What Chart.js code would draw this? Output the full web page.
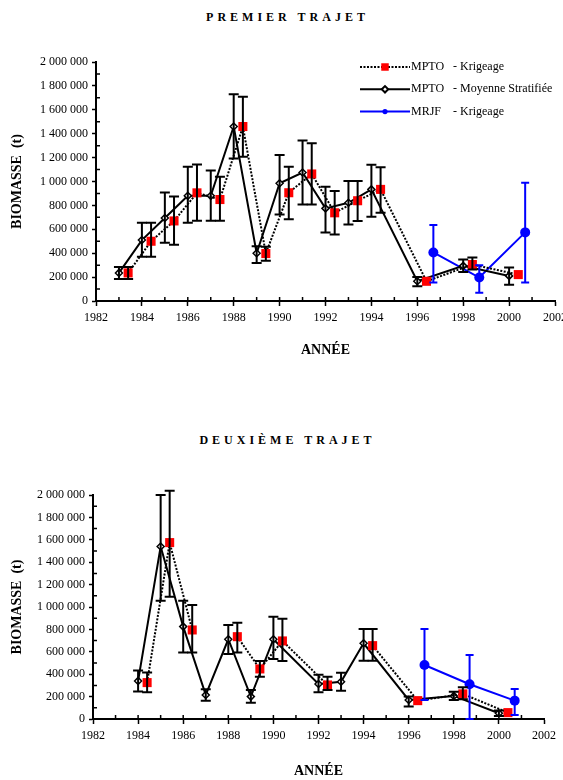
<!DOCTYPE html>
<html>
<head>
<meta charset="utf-8">
<script src="https://cdn.jsdelivr.net/npm/chart.js@4.4.1/dist/chart.umd.min.js"></script>
<style>
    body { margin: 0; background: #fff; }
    #page { position: relative; width: 563px; height: 780px; overflow: hidden; }
    canvas { position: absolute; left: 0; }
    .titre { position: absolute; left: 6px; width: 563px; text-align: center; font: bold 12px "Liberation Serif", serif; letter-spacing: 4px; color: #000; }
</style>
</head>
<body>
<div id="page">
    <div class="titre" style="top:10px">PREMIER TRAJET</div>
    <canvas id="chartPremier" width="563" height="362" style="top:0"></canvas>
    <div class="titre" style="top:433px">DEUXIÈME TRAJET</div>
    <canvas id="chartDeuxieme" width="563" height="360" style="top:420px"></canvas>
</div>
<script>
// Legende (commune aux deux graphiques)
const sources = ['MPTO', 'MPTO', 'MRJF']
const methodes = ['- Krigeage', '- Moyenne Stratifiée', '- Krigeage']

// Premier trajet : MPTO krigeage
const krigAnnees1 = [1983.4, 1984.4, 1985.4, 1986.4, 1987.4, 1988.4, 1989.4, 1990.4, 1991.4, 1992.4, 1993.4, 1994.4, 1996.4, 1998.4, 2000.4]
const krigBiomasse1 = [235000, 500000, 670000, 905000, 849000, 1460000, 397000, 906000, 1063000, 738000, 839000, 934000, 165000, 305000, 221000]
const krigMin1 = [185000, 370000, 471000, 672000, 672000, 1208000, 336000, 685000, 808000, 557000, 669000, 738000, null, 263000, null]
const krigMax1 = [285000, 655000, 874000, 1143000, 1039000, 1709000, 453000, 1124000, 1320000, 920000, 1004000, 1119000, null, 364000, null]

// Premier trajet : MPTO moyenne stratifiée
const moyAnnees1 = [1983, 1984, 1985, 1986, 1987, 1988, 1989, 1990, 1991, 1992, 1993, 1994, 1996, 1998, 2000]
const moyBiomasse1 = [235000, 510000, 695000, 880000, 880000, 1460000, 400000, 985000, 1075000, 775000, 822000, 934000, 165000, 294000, 210000]
const moyMin1 = [185000, 370000, 487000, 655000, 672000, 1192000, 319000, 724000, 808000, 573000, 641000, 705000, 123000, 243000, 137000]
const moyMax1 = [285000, 655000, 908000, 1123000, 1092000, 1731000, 459000, 1222000, 1343000, 957000, 1004000, 1141000, 200000, 347000, 280000]

// Premier trajet : MRJF krigeage
const mrjfAnnees1 = [1996.7, 1998.7, 2000.7]
const mrjfBiomasse1 = [406000, 196000, 574000]
const mrjfMin1 = [154000, 70000, 154000]
const mrjfMax1 = [635000, 299000, 990000]

// Deuxième trajet : MPTO krigeage (null = pas de valeur, la ligne s'interrompt)
const krigAnnees2 = [1984.4, 1985.4, 1986.4, 1987.4, 1988.4, 1989.4, 1990.4, 1992.4, 1993.4, 1994.4, 1996.4, 1998.4, 2000.4]
const krigBiomasse2 = [325000, 1575000, 795000, null, 735000, 447000, 697000, 304000, null, 655000, 164000, 224000, 57000]
const krigMin2 = [239000, 1092000, 593000, null, 593000, 378000, 518000, 259000, null, 521000, null, 176000, null]
const krigMax2 = [415000, 2039000, 1018000, null, 860000, 518000, 896000, 378000, null, 804000, null, 283000, null]

// Deuxième trajet : MPTO moyenne stratifiée
const moyAnnees2 = [1984, 1985, 1986, 1987, 1988, 1989, 1990, 1992, 1993, 1994, 1996, 1998, 2000]
const moyBiomasse2 = [340000, 1540000, 825000, 215000, 712000, 200000, 712000, 313000, 333000, 676000, 170000, 206000, 51000]
const moyMin2 = [245000, 1056000, 593000, 164000, 580000, 146000, 536000, 239000, 253000, 521000, 111000, 170000, 27000]
const moyMax2 = [432000, 2000000, 1056000, 265000, 840000, 260000, 914000, 394000, 413000, 804000, 200000, 244000, 75000]

// Deuxième trajet : MRJF krigeage
const mrjfAnnees2 = [1996.7, 1998.7, 2000.7]
const mrjfBiomasse2 = [482000, 310000, 164000]
const mrjfMin2 = [170000, 0, 36000]
const mrjfMax2 = [804000, 571000, 268000]

// Axes
const anneeMin = 1982, anneeMax = 2002, anneePas = 2
const biomasseMin = 0, biomasseMax = 2000000, biomassePas = 200000

const SERIF = '"Liberation Serif", "Times New Roman", serif'
Chart.defaults.font.family = SERIF
Chart.defaults.font.size = 12
Chart.defaults.color = '#000'

function points(xs, ys) {
    return xs.map((x, i) => ({ x, y: ys[i] }))
}

function milliers(v) {
    return String(v).replace(/\B(?=(\d{3})+(?!\d))/g, ' ')
}

// Barres d'erreur dessinées avec les échelles du graphique
const barresErreur = {
    id: 'barresErreur',
    afterDatasetsDraw(chart) {
        const { ctx, scales: { x, y } } = chart
        ctx.save()
        ctx.lineWidth = 2
        ctx.setLineDash([])
        chart.data.datasets.forEach(ds => {
            if (!ds.errMin) return
            ctx.strokeStyle = ds.barColor
            const cap = ds.capWidth
            ds.data.forEach((p, i) => {
                const lo = ds.errMin[i], hi = ds.errMax[i]
                if (lo == null || hi == null) return
                const px = x.getPixelForValue(p.x)
                const y1 = y.getPixelForValue(lo), y2 = y.getPixelForValue(hi)
                ctx.beginPath()
                ctx.moveTo(px, y1); ctx.lineTo(px, y2)
                ctx.moveTo(px - cap, y1); ctx.lineTo(px + cap, y1)
                ctx.moveTo(px - cap, y2); ctx.lineTo(px + cap, y2)
                ctx.stroke()
            })
        })
        ctx.restore()
    }
}

// Petites graduations intérieures (chaque année, chaque 100 000)
const graduations = {
    id: 'graduations',
    afterDraw(chart) {
        const { ctx, scales: { x, y } } = chart
        ctx.save()
        ctx.strokeStyle = '#000'
        ctx.lineWidth = 1.5
        ctx.beginPath()
        for (let a = anneeMin + 1; a < anneeMax; a++) {
            const px = x.getPixelForValue(a)
            ctx.moveTo(px, y.bottom)
            ctx.lineTo(px, y.bottom - 4)
        }
        for (let b = biomasseMin + biomassePas / 2; b < biomasseMax; b += biomassePas) {
            const py = y.getPixelForValue(b)
            ctx.moveTo(x.left, py)
            ctx.lineTo(x.left + 4, py)
        }
        ctx.stroke()
        ctx.restore()
    }
}

// Légende dessinée sur le premier graphique
const legende = {
    id: 'legende',
    afterDraw(chart, args, opts) {
        if (!opts.show) return
        const { ctx } = chart
        ctx.save()
        chart.data.datasets.forEach((ds, i) => {
            const y0 = 67 + i * 22.3
            ctx.strokeStyle = ds.borderColor
            ctx.lineWidth = 2
            ctx.setLineDash(ds.borderDash || [])
            ctx.beginPath()
            ctx.moveTo(360, y0)
            ctx.lineTo(410, y0)
            ctx.stroke()
            ctx.setLineDash([])
            ctx.fillStyle = ds.pointBackgroundColor
            ctx.strokeStyle = ds.pointBorderColor
            Chart.helpers.drawPoint(ctx, { pointStyle: ds.pointStyle, radius: ds.legendRadius, rotation: 0, borderWidth: ds.pointBorderWidth }, 385, y0)
            ctx.fillStyle = '#000'
            ctx.font = '12px ' + SERIF
            ctx.textBaseline = 'middle'
            ctx.fillText(sources[i], 411, y0)
            ctx.fillText(methodes[i], 453, y0)
        })
        ctx.restore()
    }
}

function creerGraphique(canvas, series, mise) {
    const [krig, moy, mrjf] = series
    return new Chart(canvas, {
        type: 'line',
        data: {
            datasets: [
                {
                    label: sources[0] + ' ' + methodes[0],
                    data: points(krig.annees, krig.valeurs),
                    errMin: krig.min, errMax: krig.max, barColor: '#000', capWidth: 5,
                    borderColor: '#000', borderWidth: 2, borderDash: [2, 1.5],
                    pointStyle: 'rect', pointRadius: 6.4, legendRadius: 5.3,
                    pointBackgroundColor: '#ff0000', pointBorderColor: '#ff0000', pointBorderWidth: 0,
                    tension: 0, spanGaps: false
                },
                {
                    label: sources[1] + ' ' + methodes[1],
                    data: points(moy.annees, moy.valeurs),
                    errMin: moy.min, errMax: moy.max, barColor: '#000', capWidth: 5,
                    borderColor: '#000', borderWidth: 2,
                    pointStyle: 'rectRot', pointRadius: 3.5, legendRadius: 3.2,
                    pointBackgroundColor: '#fff', pointBorderColor: '#000', pointBorderWidth: 1.5,
                    tension: 0
                },
                {
                    label: sources[2] + ' ' + methodes[2],
                    data: points(mrjf.annees, mrjf.valeurs),
                    errMin: mrjf.min, errMax: mrjf.max, barColor: '#0000ff', capWidth: 4,
                    borderColor: '#0000ff', borderWidth: 2,
                    pointStyle: 'circle', pointRadius: 5, legendRadius: 2.6,
                    pointBackgroundColor: '#0000ff', pointBorderColor: '#0000ff', pointBorderWidth: 0,
                    tension: 0
                }
            ]
        },
        options: {
            responsive: false,
            animation: false,
            devicePixelRatio: 1,
            clip: false,
            layout: { padding: { top: mise.haut, right: mise.droite, bottom: 0, left: 0 } },
            plugins: {
                legend: { display: false },
                tooltip: { enabled: false },
                legende: { show: mise.legende }
            },
            scales: {
                x: {
                    type: 'linear', min: anneeMin, max: anneeMax,
                    ticks: { stepSize: anneePas, padding: 5, maxRotation: 0, autoSkip: false, font: { size: 12 }, callback: v => String(v) },
                    grid: { drawOnChartArea: false, tickLength: 5, tickWidth: 1.5, tickColor: '#000' },
                    border: { color: '#000', width: 2 },
                    title: { display: true, text: 'ANNÉE', font: { size: 14, weight: 'bold' }, padding: { top: 0, bottom: mise.titreBas } },
                    afterFit: s => { s.height = 61; s.paddingLeft = 0; s.paddingRight = 0 }
                },
                y: {
                    min: biomasseMin, max: biomasseMax,
                    ticks: { stepSize: biomassePas, padding: 4, font: { size: 12 }, callback: v => milliers(v) },
                    grid: { drawOnChartArea: false, tickLength: 4, tickWidth: 1.5, tickColor: '#000' },
                    border: { color: '#000', width: 2 },
                    title: { display: true, text: 'BIOMASSE  (t)', font: { size: 14, weight: 'bold' }, padding: { top: 8.6, bottom: 0 } },
                    afterFit: s => { s.width = mise.gauche }
                }
            }
        },
        plugins: [barresErreur, graduations, legende]
    })
}

creerGraphique(document.getElementById('chartPremier'), [
    { annees: krigAnnees1, valeurs: krigBiomasse1, min: krigMin1, max: krigMax1 },
    { annees: moyAnnees1, valeurs: moyBiomasse1, min: moyMin1, max: moyMax1 },
    { annees: mrjfAnnees1, valeurs: mrjfBiomasse1, min: mrjfMin1, max: mrjfMax1 }
], { haut: 62, droite: 8, gauche: 96, titreBas: 3.6, legende: true })

creerGraphique(document.getElementById('chartDeuxieme'), [
    { annees: krigAnnees2, valeurs: krigBiomasse2, min: krigMin2, max: krigMax2 },
    { annees: moyAnnees2, valeurs: moyBiomasse2, min: moyMin2, max: moyMax2 },
    { annees: mrjfAnnees2, valeurs: mrjfBiomasse2, min: mrjfMin2, max: mrjfMax2 }
], { haut: 75, droite: 19, gauche: 93, titreBas: 0.6, legende: false })
</script>
</body>
</html>
